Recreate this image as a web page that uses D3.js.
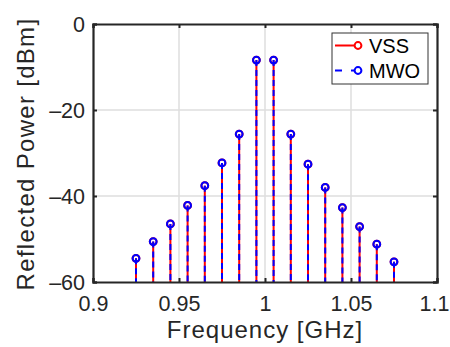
<!DOCTYPE html>
<html>
<head>
<meta charset="utf-8">
<script src="https://cdn.jsdelivr.net/npm/d3@7"></script>
<style>
  body { margin: 0; background: #fff; }
  svg { display: block; font-family: "Liberation Sans", Arial, sans-serif; }
</style>
</head>
<body>
<div id="chart"></div>
<script>
// data
const freqs = [0.925, 0.935, 0.945, 0.955, 0.965, 0.975, 0.985, 0.995,
               1.005, 1.015, 1.025, 1.035, 1.045, 1.055, 1.065, 1.075]
const vss = [-54.5, -50.6, -46.5, -42.2, -37.6, -32.3, -25.6, -8.4,
             -8.4, -25.6, -32.6, -38.0, -42.7, -47.1, -51.2, -55.3]
const mwo = vss.slice()
const xTicks = [0.9, 0.95, 1, 1.05, 1.1]
const yTicks = [-60, -40, -20, 0]
const seriesNames = ["VSS", "MWO"]

const width = 450, height = 347
const margin = {top: 24, right: 13, bottom: 65, left: 93}

const svg = d3.select("#chart").append("svg")
    .attr("width", width)
    .attr("height", height)

const x = d3.scaleLinear().domain([0.9, 1.1]).range([margin.left, width - margin.right])
const y = d3.scaleLinear().domain([-60, 0]).range([height - margin.bottom, margin.top])

const axisColor = "#262626"

// grid
const grid = svg.append("g")
grid.selectAll(".gx").data(xTicks.slice(1, -1)).enter().append("line")
    .attr("x1", d => x(d)).attr("x2", d => x(d))
    .attr("y1", y(-60)).attr("y2", y(0))
    .attr("stroke", "#dedede").attr("stroke-width", 1.5)
grid.selectAll(".gy").data(yTicks.slice(1, -1)).enter().append("line")
    .attr("x1", x(0.9)).attr("x2", x(1.1))
    .attr("y1", d => y(d)).attr("y2", d => y(d))
    .attr("stroke", "#dedede").attr("stroke-width", 1.5)

// stems
const base = -60
const red = svg.append("g")
red.selectAll("line").data(freqs).enter().append("line")
    .attr("x1", d => x(d)).attr("x2", d => x(d))
    .attr("y1", y(base)).attr("y2", (d, i) => y(vss[i]))
    .attr("stroke", "#ff0000").attr("stroke-width", 2)
red.selectAll("circle").data(freqs).enter().append("circle")
    .attr("cx", d => x(d)).attr("cy", (d, i) => y(vss[i])).attr("r", 3.4)
    .attr("fill", "none").attr("stroke", "#ff0000").attr("stroke-width", 2)

const blue = svg.append("g")
blue.selectAll("line").data(freqs).enter().append("line")
    .attr("x1", d => x(d)).attr("x2", d => x(d))
    .attr("y1", (d, i) => y(mwo[i])).attr("y2", y(base))
    .attr("stroke", "#0000ff").attr("stroke-width", 2)
    .attr("stroke-dasharray", "6,4")
blue.selectAll("circle").data(freqs).enter().append("circle")
    .attr("cx", d => x(d)).attr("cy", (d, i) => y(mwo[i])).attr("r", 3.4)
    .attr("fill", "none").attr("stroke", "#0000ff").attr("stroke-width", 2)

// axes
const xAxis = svg.append("g")
    .attr("transform", `translate(0,${y(-60)})`)
    .call(d3.axisBottom(x).tickValues(xTicks).tickSize(-4)
        .tickFormat(d3.format("")))
const yAxis = svg.append("g")
    .attr("transform", `translate(${x(0.9)},0)`)
    .call(d3.axisLeft(y).tickValues(yTicks).tickSize(-4).tickPadding(8)
        .tickFormat(d => d < 0 ? "\u2013" + Math.abs(d) : d))
const xAxisTop = svg.append("g")
    .attr("transform", `translate(0,${y(0)})`)
    .call(d3.axisTop(x).tickValues(xTicks).tickSize(-4).tickFormat(""))
const yAxisRight = svg.append("g")
    .attr("transform", `translate(${x(1.1)},0)`)
    .call(d3.axisRight(y).tickValues(yTicks).tickSize(-4).tickFormat(""))

for (const g of [xAxis, yAxis, xAxisTop, yAxisRight]) {
    g.select(".domain").attr("stroke", axisColor).attr("stroke-width", 2.2)
    g.selectAll(".tick line").attr("stroke", axisColor).attr("stroke-width", 2)
    g.selectAll(".tick text").attr("fill", axisColor)
        .style("font-size", "21.5px").style("font-family", "Liberation Sans, Arial, sans-serif")
}
xAxis.selectAll(".tick text").attr("y", 29).attr("dy", "0")
    .attr("x", d => d === 1.1 ? -3 : 0)
yAxis.selectAll(".tick text").attr("dy", "0.36em")

// axis labels
svg.append("text")
    .attr("x", (x(0.9) + x(1.1)) / 2).attr("y", 338)
    .attr("text-anchor", "middle").attr("fill", axisColor)
    .style("font-size", "24px").style("letter-spacing", "1px")
    .text("Frequency [GHz]")
svg.append("text")
    .attr("transform", `translate(34,${(y(0) + y(-60)) / 2 + 1}) rotate(-90)`)
    .attr("text-anchor", "middle").attr("fill", axisColor)
    .style("font-size", "24px").style("letter-spacing", "1.3px")
    .text("Reflected Power [dBm]")

// legend
const leg = svg.append("g").attr("transform", "translate(332,33)")
leg.append("rect").attr("width", 96).attr("height", 51)
    .attr("fill", "#fff").attr("stroke", "#333").attr("stroke-width", 1)
const legColors = ["#ff0000", "#0000ff"]
seriesNames.forEach((name, i) => {
    const yy = 12.5 + i * 25
    leg.append("line").attr("x1", 3).attr("x2", 26).attr("y1", yy).attr("y2", yy)
        .attr("stroke", legColors[i]).attr("stroke-width", 2)
        .attr("stroke-dasharray", i === 1 ? "7,9" : null)
    leg.append("circle").attr("cx", 26).attr("cy", yy).attr("r", 3.4)
        .attr("fill", "#fff").attr("stroke", legColors[i]).attr("stroke-width", 2)
    leg.append("text").attr("x", 37).attr("y", yy).attr("dy", "0.36em")
        .attr("fill", "#000").style("font-size", "20px").text(name)
})
</script>
</body>
</html>
